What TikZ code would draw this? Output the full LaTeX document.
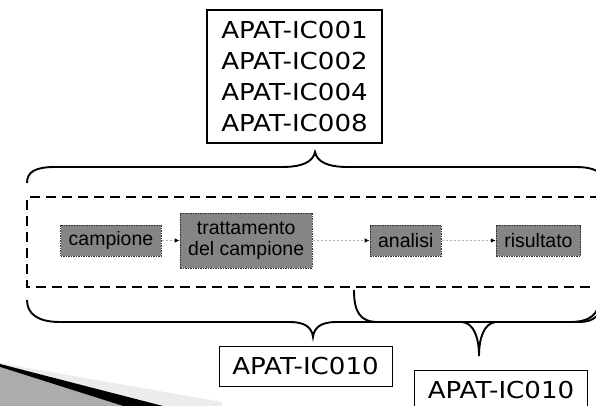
\documentclass[tikz,border=0pt]{standalone}
\usepackage{fontspec}
\setmainfont{Liberation Sans}
\newfontfamily\codefont[FakeStretch=1.12]{DejaVu Sans}
\usetikzlibrary{positioning,arrows.meta}

\begin{document}
\begin{tikzpicture}[
    x=1pt, y=-1pt,
    font=\fontsize{19.5}{21}\selectfont,
    stepbox/.style={
        draw=black!80,
        dash pattern=on 1.5pt off 1pt,
        line width=0.9pt,
        fill=black!48,
        inner xsep=8pt,
        minimum height=31pt,
        align=center
    },
    codebox/.style={
        draw,
        line width=1.2pt,
        font=\codefont\fontsize{23.3}{30.7}\selectfont,
        align=center,
        inner sep=0pt
    },
    flow/.style={draw=gray!60, line width=1.5pt, dash pattern=on 2pt off 2pt,
        -{Latex[length=5pt,width=4.5pt,color=black]}},
    brace/.style={line width=1.9pt},
    frame/.style={line width=2pt, dash pattern=on 10pt off 6pt}
]
\clip (0,0) rectangle (596,406);

% ============================================================
% SFONDO (angolo in basso a sinistra)
% ============================================================
\fill[gray!15] (0,363) -- (222,402) -- (222,406) -- (0,406) -- cycle;
\fill[black] (0,364) -- (163,406) -- (0,406) -- cycle;
\fill[gray!65] (0,367) -- (123,406) -- (0,406) -- cycle;

% ============================================================
% FASI DEL PROCESSO
% ============================================================
\node[stepbox] (sample) at (111,240.5) {campione};
\node[stepbox, minimum height=55pt, right=18pt of sample] (prep) {trattamento\\del campione};
\node[stepbox, right=57pt of prep] (analysis) {analisi};
\node[stepbox, right=54pt of analysis] (result) {risultato};

\draw[flow] (sample) -- (prep);
\draw[flow] (prep) -- (analysis);
\draw[flow] (analysis) -- (result);

\draw[frame] (600,197) -- (27,197) -- (27,287) -- (600,287);

% ============================================================
% CODICI E PARENTESI
% ============================================================
\node[codebox, minimum width=175pt, minimum height=133pt] (codesA) at (294.5,76.5)
    {APAT-IC001\\APAT-IC002\\APAT-IC004\\APAT-IC008};
\node[codebox, line width=0.9pt, minimum width=173pt, minimum height=40pt] (codesB) at (305.5,366) {APAT-IC010};
\node[codebox, line width=0.9pt, minimum width=173pt, minimum height=40pt] (codesC) at (501,390) {APAT-IC010};

\draw[brace] (27,183) .. controls (27,172) and (35,167) .. (55,167) -- (282,167)
    .. controls (302,167) and (313,162) .. (315,152)
    .. controls (317,162) and (328,167) .. (348,167) -- (575,167)
    .. controls (595,167) and (603,172) .. (603,183);
\draw[brace] (27,300) .. controls (27,314) and (38,322) .. (60,322) -- (290,322)
    .. controls (304,322) and (312,327) .. (313,337)
    .. controls (314,327) and (322,322) .. (336,322) -- (570,322)
    .. controls (590,322) and (599,314) .. (599,300);
\draw[brace] (354,290) .. controls (354,312) and (360,322) .. (378,322) -- (462,322)
    .. controls (474,323) and (479,338) .. (479,356)
    .. controls (479,338) and (484,323) .. (496,322) -- (580,322)
    .. controls (594,322) and (601,314) .. (604,304);

\end{tikzpicture}
\end{document}
